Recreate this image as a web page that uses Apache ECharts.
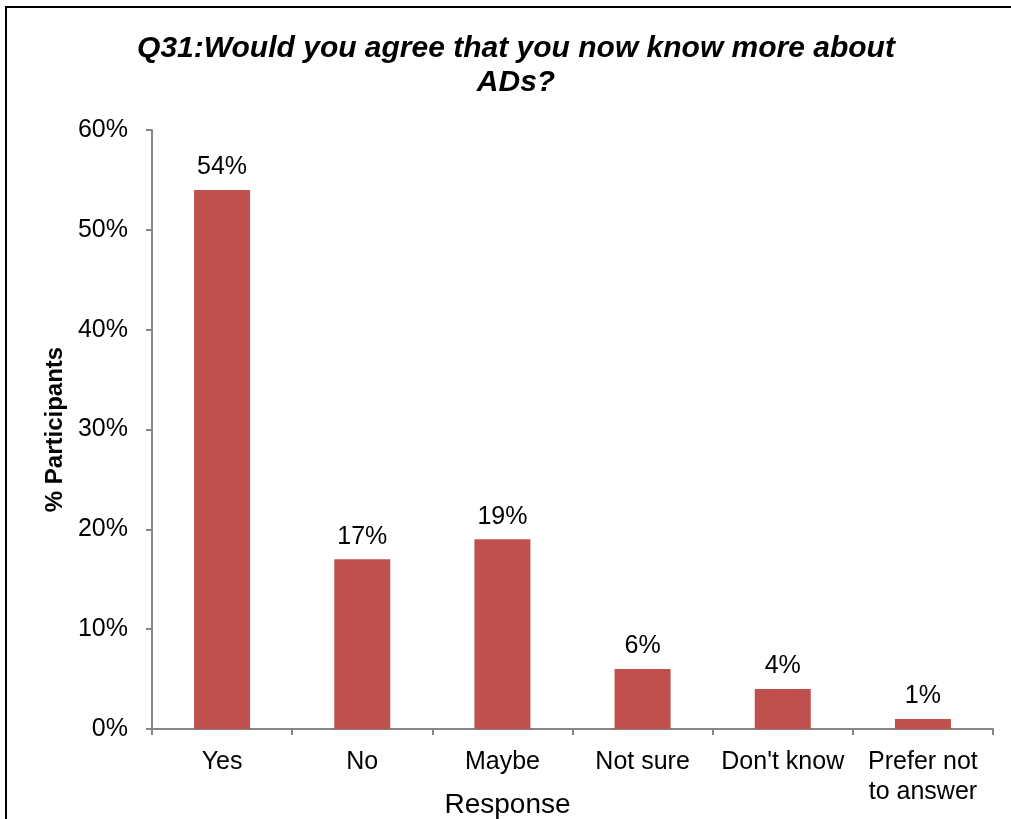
<!DOCTYPE html>
<html>
<head>
<meta charset="utf-8">
<script src="https://cdn.jsdelivr.net/npm/echarts@6/dist/echarts.min.js"></script>
<style>
  html, body { margin: 0; padding: 0; background: #fff; }
  #chart { width: 1011px; height: 819px; }
</style>
</head>
<body>
<div id="chart"></div>
<script>
// Survey responses, share of participants (%)
const categories = ['Yes', 'No', 'Maybe', 'Not sure', "Don't know", 'Prefer not\nto answer'];
const shares = [54, 17, 19, 6, 4, 1];
const yTicks = [0, 10, 20, 30, 40, 50, 60];

const FONT = '"Liberation Sans", Arial, sans-serif';
const AXIS_GREY = '#868686';

const chart = echarts.init(document.getElementById('chart'), null, { renderer: 'canvas' });
chart.setOption({
  animation: false,
  backgroundColor: '#fff',
  textStyle: { fontFamily: FONT },
  title: {
    text: 'Q31:Would you agree that you now know more about\nADs?',
    left: 516,
    textAlign: 'center',
    top: 32,
    padding: 0,
    textStyle: {
      fontFamily: FONT,
      fontSize: 30,
      fontWeight: 'bold',
      fontStyle: 'italic',
      color: '#000',
      lineHeight: 34
    }
  },
  graphic: [{
    type: 'rect',
    shape: { x: 6, y: 7, width: 1200, height: 1000 },
    style: { fill: 'none', stroke: '#000', lineWidth: 2 },
    silent: true,
    z: 100
  }],
  grid: { left: 152, right: 18, top: 130, bottom: 90, containLabel: false, outerBoundsMode: 'none' },
  xAxis: {
    type: 'category',
    data: categories,
    name: 'Response',
    nameLocation: 'middle',
    nameGap: 62,
    nameMoveOverlap: false,
    // axis title sits left of the plot centre, under "Maybe"
    nameTextStyle: { fontFamily: FONT, fontSize: 28, color: '#000', padding: [0, 130, 0, 0] },
    axisLine: { lineStyle: { color: AXIS_GREY, width: 2 } },
    axisTick: { show: true, alignWithLabel: false, length: 6, lineStyle: { color: AXIS_GREY, width: 2 } },
    axisLabel: { fontFamily: FONT, fontSize: 25, color: '#000', margin: 18, lineHeight: 30, interval: 0 }
  },
  yAxis: {
    type: 'value',
    min: 0,
    max: 60,
    interval: 10,
    name: '% Participants',
    nameLocation: 'middle',
    nameGap: 85,
    nameRotate: 90,
    nameMoveOverlap: false,
    nameTextStyle: { fontFamily: FONT, fontSize: 24, fontWeight: 'bold', color: '#000' },
    splitLine: { show: false },
    axisLine: { show: true, lineStyle: { color: AXIS_GREY, width: 2 } },
    axisTick: { show: true, length: 6, lineStyle: { color: AXIS_GREY, width: 2 } },
    axisLabel: {
      fontFamily: FONT, fontSize: 25, color: '#000', margin: 24,
      formatter: v => (yTicks.includes(v) ? v + '%' : '')
    }
  },
  series: [{
    type: 'bar',
    data: shares,
    barWidth: 56,
    itemStyle: { color: '#C0504D' },
    label: {
      show: true,
      position: 'top',
      distance: 10,
      fontFamily: FONT,
      fontSize: 25,
      color: '#000',
      formatter: p => p.value + '%'
    }
  }]
});
</script>
</body>
</html>
